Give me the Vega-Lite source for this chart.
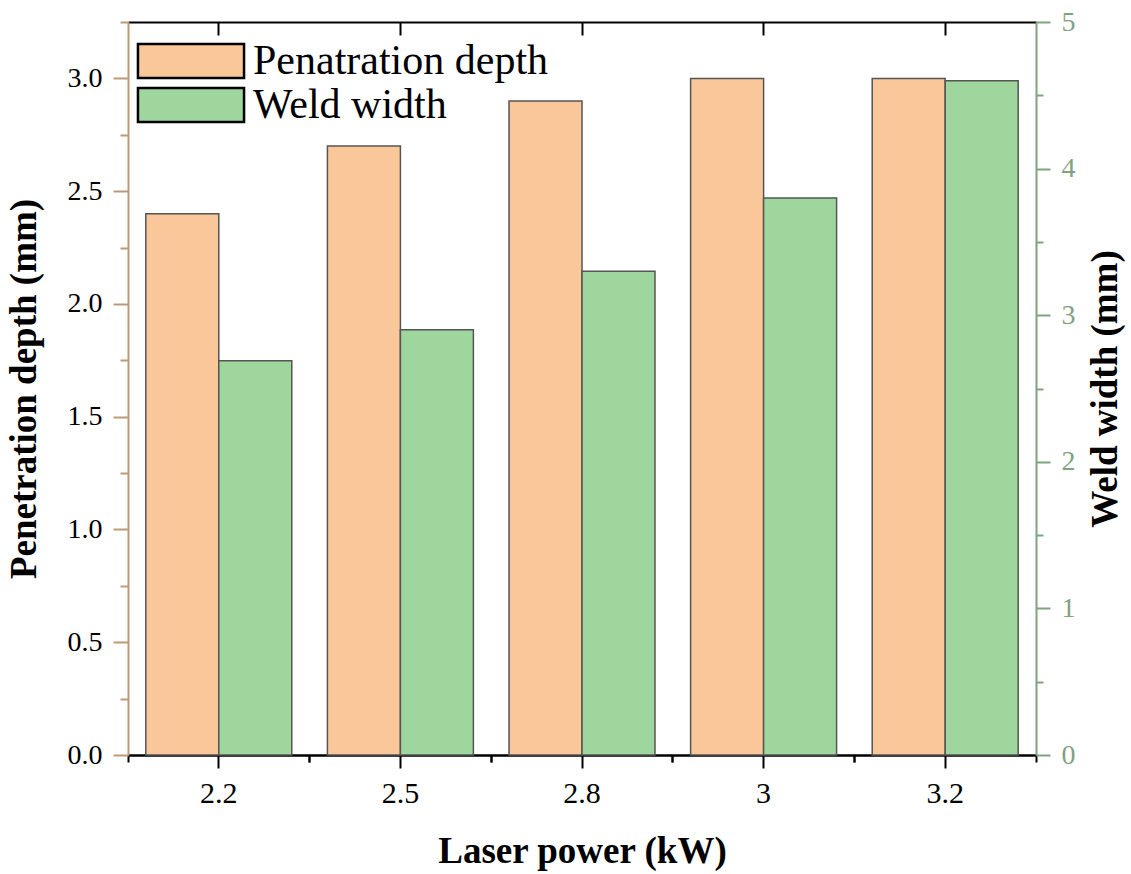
{
  "$schema": "https://vega.github.io/schema/vega-lite/v6.json",
  "autosize": {"type": "none"},
  "padding": {"left": 128, "top": 22, "right": 95, "bottom": 119},
  "width": 908,
  "height": 733,
  "config": {"view": {"stroke": null}, "font": "Liberation Serif"},
  "data": {
    "values": [
      {"power": "2.2", "series": "Penatration depth", "value": 2.4},
      {"power": "2.5", "series": "Penatration depth", "value": 2.7},
      {"power": "2.8", "series": "Penatration depth", "value": 2.9},
      {"power": "3", "series": "Penatration depth", "value": 3.0},
      {"power": "3.2", "series": "Penatration depth", "value": 3.0},
      {"power": "2.2", "series": "Weld width", "value": 2.69},
      {"power": "2.5", "series": "Weld width", "value": 2.9},
      {"power": "2.8", "series": "Weld width", "value": 3.3},
      {"power": "3", "series": "Weld width", "value": 3.8},
      {"power": "3.2", "series": "Weld width", "value": 4.6}
    ]
  },
  "encoding": {
    "x": {"field": "power", "type": "ordinal", "sort": ["2.2", "2.5", "2.8", "3", "3.2"],
      "scale": {"paddingInner": 0, "paddingOuter": 0}},
    "xOffset": {"field": "series", "type": "nominal",
      "scale": {"domain": ["Penatration depth", "Weld width"], "paddingInner": 0, "paddingOuter": 0.244}},
    "color": {"field": "series", "type": "nominal",
      "scale": {"domain": ["Penatration depth", "Weld width"], "range": ["#F9C79A", "#9ED69E"]},
      "legend": {
        "title": null, "orient": "none", "legendX": 42, "legendY": 18, "padding": 0,
        "symbolType": "M-3.12,-1H3.12V1H-3.12Z", "symbolSize": 1156,
        "symbolStrokeColor": "black", "symbolStrokeWidth": 2.5, "symbolOpacity": 1,
        "labelFont": "Liberation Serif", "labelFontSize": 42, "labelColor": "black",
        "labelOffset": 41, "rowPadding": 0, "labelLimit": 600
      }}
  },
  "layer": [
    {
      "transform": [{"filter": "datum.series === 'Penatration depth'"}],
      "mark": {"type": "bar", "stroke": "#555555", "strokeWidth": 1.5},
      "encoding": {
        "x": {"field": "power", "type": "ordinal", "sort": ["2.2", "2.5", "2.8", "3", "3.2"],
          "axis": {"orient": "bottom", "title": "Laser power (kW)", "labelAngle": 0,
            "labelFont": "Liberation Serif", "labelFontSize": 30, "labelColor": "black",
            "labelPadding": 10, "tickSize": 13, "tickWidth": 2, "tickColor": "black",
            "domainColor": "black", "domainWidth": 2.5,
            "titleFont": "Liberation Serif", "titleFontSize": 37, "titleFontWeight": "bold",
            "titleColor": "black", "titlePadding": 25}},
        "y": {"field": "value", "type": "quantitative",
          "scale": {"domain": [0, 3.25], "nice": false},
          "axis": {"orient": "left", "title": "Penetration depth (mm)",
            "values": [0, 0.25, 0.5, 0.75, 1, 1.25, 1.5, 1.75, 2, 2.25, 2.5, 2.75, 3, 3.25],
            "labelExpr": "datum.value % 0.5 === 0 ? format(datum.value, '.1f') : ''",
            "labelFont": "Liberation Serif", "labelFontSize": 28, "labelColor": "black",
            "labelPadding": 11,
            "tickSize": {"condition": {"test": "datum.value % 0.5 === 0", "value": 15}, "value": 8},
            "tickWidth": 2, "tickColor": "#BD9A75", "domainColor": "#BD9A75", "domainWidth": 2,
            "grid": false,
            "titleFont": "Liberation Serif", "titleFontSize": 37, "titleFontWeight": "bold",
            "titleColor": "black", "titlePadding": 24}}
      }
    },
    {
      "transform": [{"filter": "datum.series === 'Weld width'"}],
      "mark": {"type": "bar", "stroke": "#555555", "strokeWidth": 1.5},
      "encoding": {
        "x": {"field": "power", "type": "ordinal", "sort": ["2.2", "2.5", "2.8", "3", "3.2"],
          "axis": {"orient": "bottom", "title": null, "labels": false, "domain": false,
            "bandPosition": 0, "tickSize": 7, "tickWidth": 2, "tickColor": "black"}},
        "y": {"field": "value", "type": "quantitative",
          "scale": {"domain": [0, 5], "nice": false},
          "axis": {"orient": "right", "title": "Weld width (mm)",
            "values": [0, 0.5, 1, 1.5, 2, 2.5, 3, 3.5, 4, 4.5, 5],
            "labelExpr": "datum.value % 1 === 0 ? format(datum.value, 'd') : ''",
            "labelFont": "Liberation Serif", "labelFontSize": 28, "labelColor": "#7FA37F",
            "labelPadding": 11,
            "tickSize": {"condition": {"test": "datum.value % 1 === 0", "value": 14}, "value": 7},
            "tickWidth": 2, "tickColor": "#7FA37F", "domainColor": "#7FA37F", "domainWidth": 2,
            "grid": false,
            "titleFont": "Liberation Serif", "titleFontSize": 37, "titleFontWeight": "bold",
            "titleColor": "black", "titleAngle": 270, "titleBaseline": "top", "titlePadding": 12}}
      }
    },
    {
      "transform": [{"filter": "datum.series === 'Penatration depth'"}],
      "mark": {"type": "bar", "opacity": 0},
      "encoding": {
        "x": {"field": "power", "type": "ordinal", "sort": ["2.2", "2.5", "2.8", "3", "3.2"],
          "axis": {"orient": "top", "title": null, "labels": false, "domain": true,
            "domainColor": "black", "domainWidth": 2,
            "tickSize": -13, "tickWidth": 2, "tickColor": "black"}},
        "y": {"field": "value", "type": "quantitative", "scale": {"domain": [0, 3.25], "nice": false}, "axis": null}
      }
    },
    {
      "transform": [{"filter": "datum.series === 'Penatration depth'"}],
      "mark": {"type": "bar", "opacity": 0},
      "encoding": {
        "x": {"field": "power", "type": "ordinal", "sort": ["2.2", "2.5", "2.8", "3", "3.2"],
          "axis": {"orient": "bottom", "title": null, "labels": false, "domain": false,
            "bandPosition": 1, "tickSize": 7, "tickWidth": 2, "tickColor": "black"}},
        "y": {"field": "value", "type": "quantitative", "scale": {"domain": [0, 3.25], "nice": false}, "axis": null}
      }
    }
  ],
  "resolve": {"scale": {"y": "independent"}, "axis": {"x": "independent"}}
}
